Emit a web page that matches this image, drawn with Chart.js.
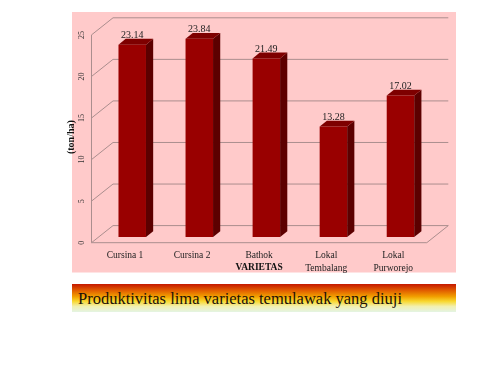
<!DOCTYPE html>
<html>
<head>
<meta charset="utf-8">
<script src="https://cdn.jsdelivr.net/npm/chart.js@4"></script>
<style>
  body { margin: 0; background: #fff; }
  #wrap { position: relative; width: 500px; height: 375px; }
  #chart { position: absolute; left: 0; top: 0; }
  #caption {
    position: absolute; left: 72px; top: 284px; width: 384px; height: 28px;
    box-sizing: border-box; padding: 3px 0 0 6px; line-height: 24px;
    font-family: "Liberation Serif", "Times New Roman", serif; font-size: 16.5px; color: #1c1008;
    background: linear-gradient(to bottom, #c41800 0%, #e05a00 22%, #f2a000 45%, #f8d830 62%, #f2f0b0 80%, #e4f4e4 100%);
  }
</style>
</head>
<body>
<div id="wrap">
  <canvas id="chart" width="500" height="375"></canvas>
  <div id="caption">Produktivitas lima varietas temulawak yang diuji</div>
</div>
<script>
var varieties = ['Cursina 1', 'Cursina 2', 'Bathok', ['Lokal', 'Tembalang'], ['Lokal', 'Purworejo']];
var yields = [23.14, 23.84, 21.49, 13.28, 17.02];
var yTicks = [0, 5, 10, 15, 20, 25];

var SERIF = '"Liberation Serif", "Times New Roman", serif';
var gridColor = '#ab8e8e';
// depth of the box and where the bars sit in it
var front = { x: -7.2, y: 5.7 };
var depth = { x: 21.5, y: -17.1 };
var barDepth = { x: 7.2, y: -5.8 };

function line(ctx, pts) {
    ctx.beginPath();
    ctx.moveTo(pts[0][0], pts[0][1]);
    for (var i = 1; i < pts.length; i++) ctx.lineTo(pts[i][0], pts[i][1]);
    ctx.stroke();
}

function poly(ctx, pts, color) {
    ctx.beginPath();
    ctx.moveTo(pts[0][0], pts[0][1]);
    for (var i = 1; i < pts.length; i++) ctx.lineTo(pts[i][0], pts[i][1]);
    ctx.closePath();
    ctx.fillStyle = color;
    ctx.fill();
}

var box3d = {
    id: 'box3d',
    beforeDraw: function(chart) {
        var ctx = chart.ctx;
        ctx.save();
        ctx.fillStyle = '#ffcaca';
        ctx.fillRect(72, 12, 384, 260.5);
        ctx.restore();
    },
    beforeDatasetsDraw: function(chart) {
        var ctx = chart.ctx, ca = chart.chartArea, ys = chart.scales.y;
        var fl = ca.left + front.x, fr = ca.right + front.x;
        ctx.save();
        ctx.strokeStyle = gridColor;
        ctx.lineWidth = 1;
        yTicks.forEach(function(v) {
            var yf = ys.getPixelForValue(v) + front.y;
            line(ctx, [[fl, yf], [fl + depth.x, yf + depth.y], [fr + depth.x, yf + depth.y]]);
        });
        var y0 = ys.getPixelForValue(0) + front.y;
        var yTop = ys.getPixelForValue(yTicks[yTicks.length - 1]) + front.y;
        line(ctx, [[fl, yTop], [fl, y0], [fr, y0], [fr + depth.x, y0 + depth.y]]);

        // rotated tick labels on the front plane
        ctx.fillStyle = '#333';
        ctx.font = '8px ' + SERIF;
        ctx.textAlign = 'center';
        ctx.textBaseline = 'middle';
        yTicks.forEach(function(v) {
            var yf = ys.getPixelForValue(v) + front.y;
            ctx.save();
            ctx.translate(fl - 9.5, yf);
            ctx.rotate(-Math.PI / 2);
            ctx.fillText(String(v), 0, 0);
            ctx.restore();
        });

        ctx.fillStyle = '#111';
        ctx.font = 'bold 10px ' + SERIF;
        ctx.save();
        ctx.translate(71, (ys.top + ys.bottom) / 2 + 4);
        ctx.rotate(-Math.PI / 2);
        ctx.fillText('(ton/ha)', 0, 0);
        ctx.restore();

        ctx.font = 'bold 9.5px ' + SERIF;
        ctx.fillText('VARIETAS', (ca.left + ca.right) / 2 + front.x, 268);

        // value labels, partly hidden behind the bar tops
        ctx.fillStyle = '#222';
        ctx.font = '10px ' + SERIF;
        chart.getDatasetMeta(0).data.forEach(function(bar, i) {
            ctx.fillText(yields[i].toFixed(2), bar.x, bar.y - 9.5);
        });
        ctx.restore();
    },
    afterDatasetsDraw: function(chart) {
        var ctx = chart.ctx;
        ctx.save();
        chart.getDatasetMeta(0).data.forEach(function(bar) {
            var l = bar.x - bar.width / 2, r = bar.x + bar.width / 2;
            poly(ctx, [[r, bar.y], [r + barDepth.x, bar.y + barDepth.y], [r + barDepth.x, bar.base + barDepth.y], [r, bar.base]], '#5c0000');
            poly(ctx, [[l, bar.y], [r, bar.y], [r + barDepth.x, bar.y + barDepth.y], [l + barDepth.x, bar.y + barDepth.y]], '#7e0000');
        });
        ctx.restore();
    }
};

new Chart(document.getElementById('chart'), {
    type: 'bar',
    data: {
        labels: varieties,
        datasets: [{
            data: yields,
            backgroundColor: '#990000',
            borderWidth: 0,
            barPercentage: 0.41,
            categoryPercentage: 1
        }]
    },
    options: {
        responsive: false,
        animation: false,
        layout: { padding: { left: 98.7, right: 66, top: 29.2, bottom: 93 } },
        plugins: { legend: { display: false }, tooltip: { enabled: false } },
        scales: {
            x: {
                grid: { display: false, drawTicks: false },
                border: { display: false },
                afterFit: function(s) { s.height = 45; },
                ticks: {
                    color: '#222',
                    font: { family: SERIF, size: 9.5, lineHeight: 1.35 },
                    padding: 12,
                    labelOffset: front.x,
                    maxRotation: 0,
                    autoSkip: false
                }
            },
            y: {
                min: 0,
                max: 25,
                grid: { display: false, drawTicks: false },
                border: { display: false },
                afterFit: function(s) { s.width = 0; },
                ticks: { display: false, stepSize: 5 }
            }
        }
    },
    plugins: [box3d]
});
</script>
</body>
</html>
